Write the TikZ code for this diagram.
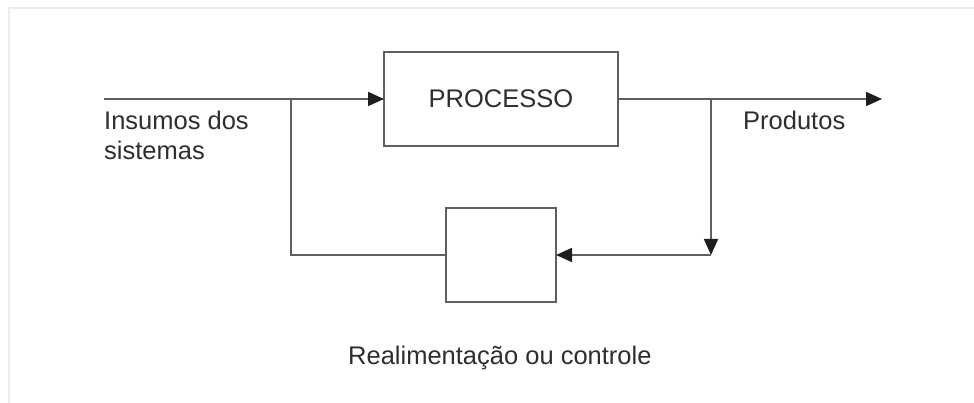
\documentclass[tikz,border=0pt]{standalone}
\usepackage{fontspec}
\setmainfont{Liberation Sans}
\usetikzlibrary{arrows.meta}
\definecolor{linegrey}{HTML}{5F5F5F}
\definecolor{textgrey}{HTML}{2E2E2E}
\definecolor{framegrey}{HTML}{EDEDED}
\definecolor{tipgrey}{HTML}{1E1E1E}
\begin{document}
\begin{tikzpicture}[x=1pt,y=-1pt,
  conn/.style={draw=linegrey,line width=1.8pt},
  arr/.style={conn,-{Triangle[length=16pt,width=14pt,color=tipgrey]}},
  blockbox/.style={draw=linegrey,line width=1.8pt,outer sep=0pt,inner sep=0pt},
  lbl/.style={text=textgrey,font=\fontsize{25.5pt}{30pt}\selectfont,inner sep=0pt}]
\useasboundingbox (0,0) rectangle (974,403);
\fill[white] (0,0) rectangle (974,403);
\draw[framegrey,line width=2pt] (9,403) -- (9,8) -- (974,8);

\node[blockbox,minimum width=234pt,minimum height=94pt] (proc) at (501,99) {};
\node[lbl] (proctext) at (501,99) {PROCESSO};
\node[blockbox,minimum width=110pt,minimum height=94pt] (ctrl) at (501,255) {};

\coordinate (in) at (104,99);
\coordinate (jl) at (291,99);
\coordinate (jr) at (711,99);
\coordinate (jrb) at (711,255);
\coordinate (out) at (882,99);

\draw[arr] (in) -- (proc.west);
\draw[conn] (jl) |- (ctrl.west);
\draw[arr] (proc.east) -- (out);
\draw[arr] (jr) -- (jrb);
\draw[arr] (jrb) -- (ctrl.east);

\node[lbl,anchor=base west,align=left] (insumos) at (104,160) {Insumos dos\\sistemas};
\node[lbl,anchor=base west] (produtos) at (743,130) {Produtos};
\node[lbl,anchor=base west] (realim) at (348,364) {Realimentação ou controle};
\end{tikzpicture}
\end{document}
